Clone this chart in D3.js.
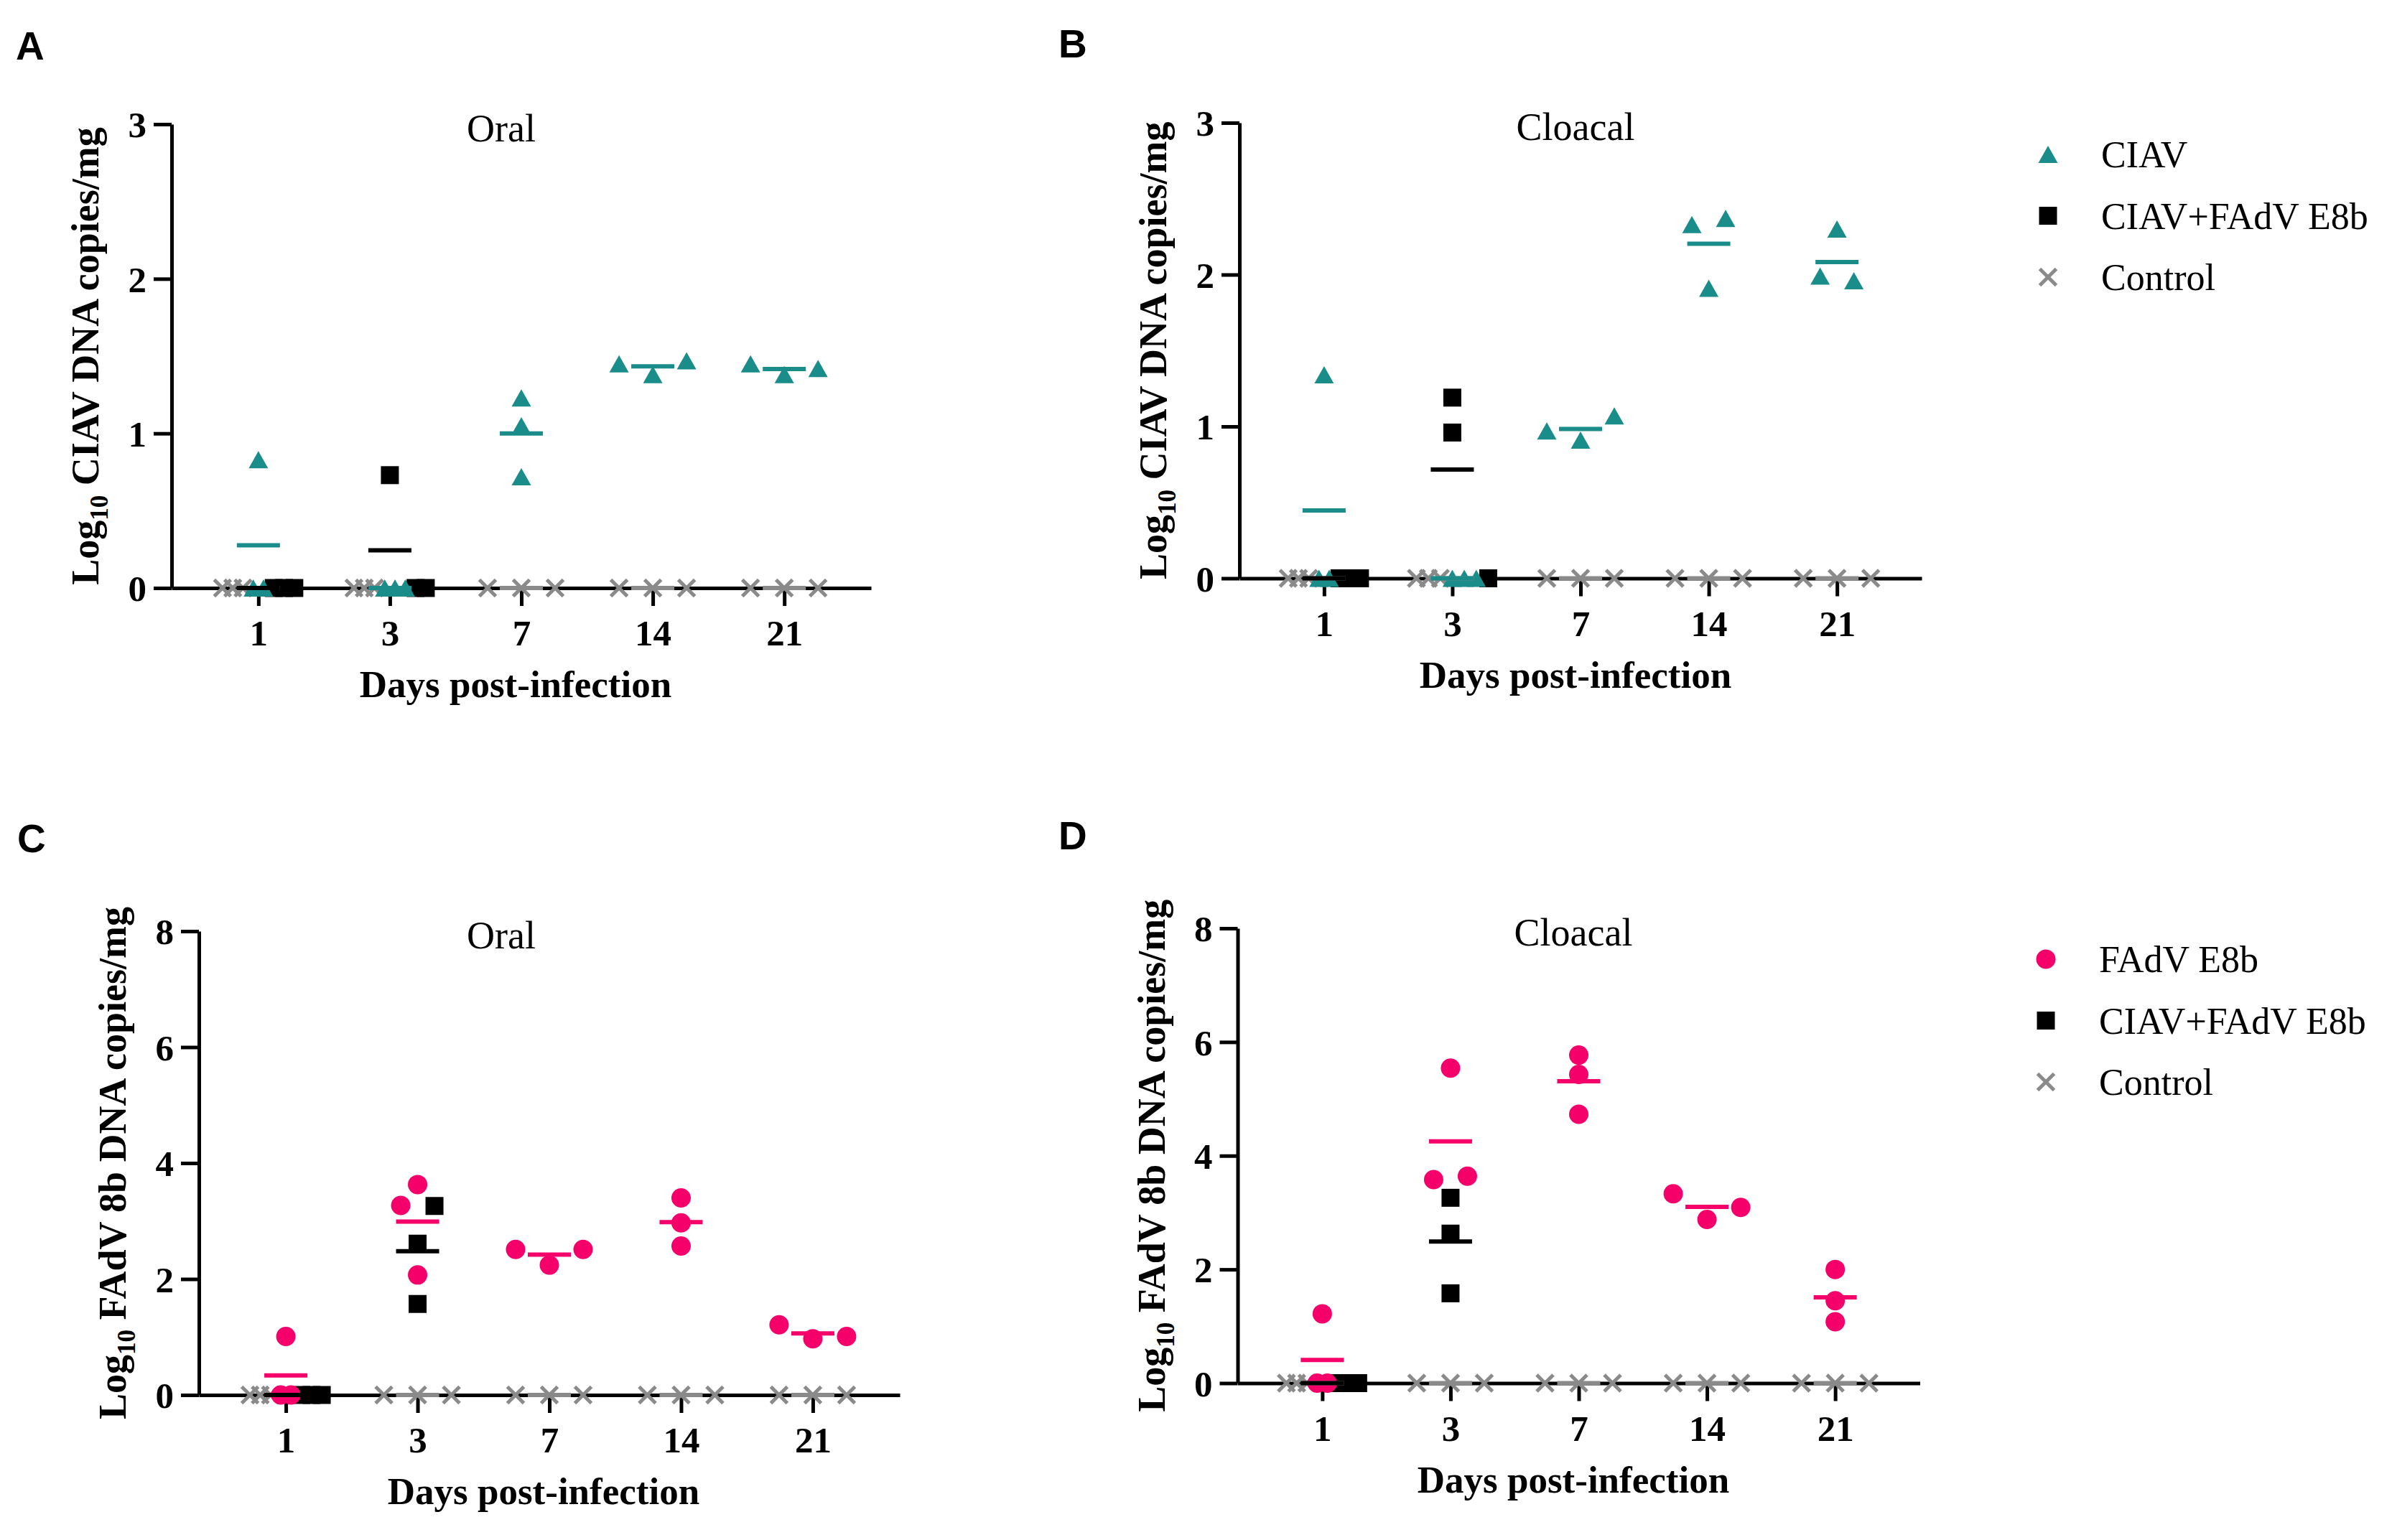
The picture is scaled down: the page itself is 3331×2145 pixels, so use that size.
<!DOCTYPE html>
<html>
<head>
<meta charset="utf-8">
<script src="https://cdn.jsdelivr.net/npm/d3@7"></script>
<style>
  body { margin: 0; background: #fff; }
  svg text { font-family: "Liberation Serif", "Times New Roman", serif; fill: #000; }
</style>
</head>
<body>
<svg id="fig" width="3331" height="2145"></svg>
<script>
// ---- data (log10 copies/mg) ----
const days = ["1", "3", "7", "14", "21"];

const controlValues = [[0, 0, 0], [0, 0, 0], [0, 0, 0], [0, 0, 0], [0, 0, 0]];

// A - CIAV, oral
const ciavOral = [[0.83, 0, 0], [0, 0, 0], [1.23, 1.05, 0.72], [1.45, 1.38, 1.47], [1.45, 1.38, 1.42]];
const coinfCiavOral = [[0, 0, 0], [0.73, 0, 0], [], [], []];

// B - CIAV, cloacal
const ciavCloacal = [[1.34, 0, 0], [0, 0, 0], [0.97, 0.91, 1.07], [2.33, 2.37, 1.91], [2.30, 1.99, 1.96]];
const coinfCiavCloacal = [[0, 0, 0], [1.19, 0.96, 0], [], [], []];

// C - FAdV 8b, oral
const fadvOral = [[1.01, 0, 0], [3.63, 3.27, 2.07], [2.51, 2.24, 2.51], [3.40, 2.97, 2.57], [1.21, 0.97, 1.01]];
const coinfFadvOral = [[0, 0, 0], [3.26, 2.61, 1.57], [], [], []];

// D - FAdV 8b, cloacal
const fadvCloacal = [[1.22, 0, 0], [5.54, 3.58, 3.64], [5.77, 5.43, 4.73], [3.33, 2.88, 3.09], [2.00, 1.45, 1.08]];
const coinfFadvCloacal = [[0, 0, 0], [3.26, 2.63, 1.58], [], [], []];

const ciavTicks = [0, 1, 2, 3];
const fadvTicks = [0, 2, 4, 6, 8];

// ---- styles ----
const TEAL = "#1a8c8a", PINK = "#f5006a", GREY = "#8a8a8a", BLACK = "#000";
const groups = {
  ctrl:  { name: "Control",       shape: "cross",    color: GREY },
  ciav:  { name: "CIAV",          shape: "triangle", color: TEAL },
  fadv:  { name: "FAdV E8b",      shape: "circle",   color: PINK },
  coinf: { name: "CIAV+FAdV E8b", shape: "square",   color: BLACK }
};

const panels = [
  { letter: "A", lx: 22, ly: 83, title: "Oral", tx: 698, dx: 718, x0: 239, x1: 1213, yTop: 173, yBot: 819, yMax: 3, ticks: ciavTicks,
    virus: "CIAV", series: [["ctrl", controlValues], ["ciav", ciavOral], ["coinf", coinfCiavOral]], legend: null },
  { letter: "B", lx: 1474, ly: 80, title: "Cloacal", tx: 2194, dx: 2194, x0: 1726, x1: 2676, yTop: 171, yBot: 805.5, yMax: 3, ticks: ciavTicks,
    virus: "CIAV", series: [["ctrl", controlValues], ["ciav", ciavCloacal], ["coinf", coinfCiavCloacal]],
    legend: { x: 2852, y: 215, keys: ["ciav", "coinf", "ctrl"] } },
  { letter: "C", lx: 24, ly: 1187, title: "Oral", tx: 698, dx: 757, x0: 277, x1: 1253, yTop: 1297, yBot: 1943, yMax: 8, ticks: fadvTicks,
    virus: "FAdV 8b", series: [["ctrl", controlValues], ["fadv", fadvOral], ["coinf", coinfFadvOral]], legend: null },
  { letter: "D", lx: 1474, ly: 1183, title: "Cloacal", tx: 2191, dx: 2191, x0: 1723.5, x1: 2673.5, yTop: 1293, yBot: 1926.5, yMax: 8, ticks: fadvTicks,
    virus: "FAdV 8b", series: [["ctrl", controlValues], ["fadv", fadvCloacal], ["coinf", coinfFadvCloacal]],
    legend: { x: 2849, y: 1336, keys: ["fadv", "coinf", "ctrl"] } }
];

const svg = d3.select("#fig");
svg.append("rect").attr("width", 3331).attr("height", 2145).attr("fill", "#fff");

function drawMarker(g, shape, color, cx, cy) {
  if (shape === "triangle") {
    g.append("path").attr("d", `M${cx},${cy - 12}L${cx + 13.5},${cy + 12}L${cx - 13.5},${cy + 12}Z`).attr("fill", color);
  } else if (shape === "square") {
    g.append("rect").attr("x", cx - 12.5).attr("y", cy - 12.5).attr("width", 25).attr("height", 25).attr("fill", color);
  } else if (shape === "circle") {
    g.append("circle").attr("cx", cx).attr("cy", cy).attr("r", 13.5).attr("fill", color);
  } else {
    const a = 11.5;
    g.append("path").attr("d", `M${cx - a},${cy - a}L${cx + a},${cy + a}M${cx - a},${cy + a}L${cx + a},${cy - a}`)
      .attr("stroke", color).attr("stroke-width", 5).attr("fill", "none");
  }
}

// spread overlapping points of one day sideways, like a scatter dot plot
function layoutDay(items) {
  const sorted = items.slice().sort((a, b) => a.py - b.py);
  const rows = [];
  let cur = null;
  sorted.forEach(p => {
    if (cur && p.py - cur[cur.length - 1].py < 23.5) cur.push(p);
    else { cur = [p]; rows.push(cur); }
  });
  rows.forEach(r => {
    r.sort((a, b) => a.order - b.order);
    const n = r.length;
    const s = n > 1 ? Math.min(47, 100 / (n - 1)) : 0;
    r.forEach((p, i) => { p.dx = (i - (n - 1) / 2) * s; });
  });
}

panels.forEach(p => {
  const x = d3.scalePoint().domain(days).range([p.x0, p.x1]).padding(0.66);
  const y = d3.scaleLinear().domain([0, p.yMax]).range([p.yBot, p.yTop]);
  const g = svg.append("g");

  // panel letter
  g.append("text").attr("x", p.lx).attr("y", p.ly).text(p.letter)
    .style("font-family", "'Liberation Sans', Arial, sans-serif").attr("font-weight", "bold").attr("font-size", 55);

  // axes
  const yAxis = g.append("g").attr("transform", `translate(${p.x0},0)`)
    .call(d3.axisLeft(y).tickValues(p.ticks).tickSize(25).tickSizeOuter(0).tickFormat(d3.format("d")));
  yAxis.selectAll("text").attr("x", -35).attr("dy", "0.35em");
  const xAxis = g.append("g").attr("transform", `translate(0,${p.yBot})`)
    .call(d3.axisBottom(x).tickSize(25).tickSizeOuter(0));
  xAxis.selectAll("text").attr("y", 80).attr("dy", null);
  [yAxis, xAxis].forEach(a => {
    a.attr("font-family", null).attr("font-size", null);
    a.selectAll("path, line").attr("stroke", BLACK).attr("stroke-width", 5);
    a.selectAll("text").attr("font-size", 51).attr("font-weight", "bold")
      .style("font-family", "'Liberation Serif', 'Times New Roman', serif").attr("fill", BLACK);
  });

  // titles
  g.append("text").attr("x", p.tx).attr("y", p.yTop + 24).attr("text-anchor", "middle")
    .attr("font-size", 54).text(p.title);
  g.append("text").attr("x", p.dx).attr("y", p.yBot + 152).attr("text-anchor", "middle")
    .attr("font-size", 53).attr("font-weight", "bold").text("Days post-infection");
  const yl = g.append("text")
    .attr("transform", `translate(${p.x0 - 102},${(p.yTop + p.yBot) / 2}) rotate(-90)`)
    .attr("text-anchor", "middle").attr("font-size", 54).attr("font-weight", "bold");
  yl.append("tspan").text("Log");
  yl.append("tspan").attr("font-size", 35).attr("dy", 13).text("10");
  yl.append("tspan").attr("dy", -13).text(` ${p.virus} DNA copies/mg`);

  // points
  const drawOrder = [0, 2, 1];
  days.forEach((day, di) => {
    const items = [];
    p.series.forEach(([key, vals], gi) => {
      vals[di].forEach((v, k) => items.push({ key, v, py: y(v), order: gi * 10 + k, gi }));
    });
    layoutDay(items);
    const cx = x(day);
    drawOrder.forEach(gi => {
      items.filter(d => d.gi === gi).forEach(d => {
        const grp = groups[d.key];
        drawMarker(g, grp.shape, grp.color, cx + d.dx, d.py);
      });
    });
    // mean lines
    p.series.forEach(([key, vals]) => {
      if (!vals[di].length) return;
      const m = d3.mean(vals[di]);
      g.append("line").attr("x1", cx - 30).attr("x2", cx + 30).attr("y1", y(m)).attr("y2", y(m))
        .attr("stroke", groups[key].color).attr("stroke-width", 6);
    });
  });

  // legend
  if (p.legend) {
    p.legend.keys.forEach((key, i) => {
      const ly = p.legend.y + i * 85.5;
      drawMarker(g, groups[key].shape, groups[key].color, p.legend.x, ly);
      g.append("text").attr("x", p.legend.x + 74).attr("y", ly + 18).attr("font-size", 52).text(groups[key].name);
    });
  }
});
</script>
</body>
</html>
